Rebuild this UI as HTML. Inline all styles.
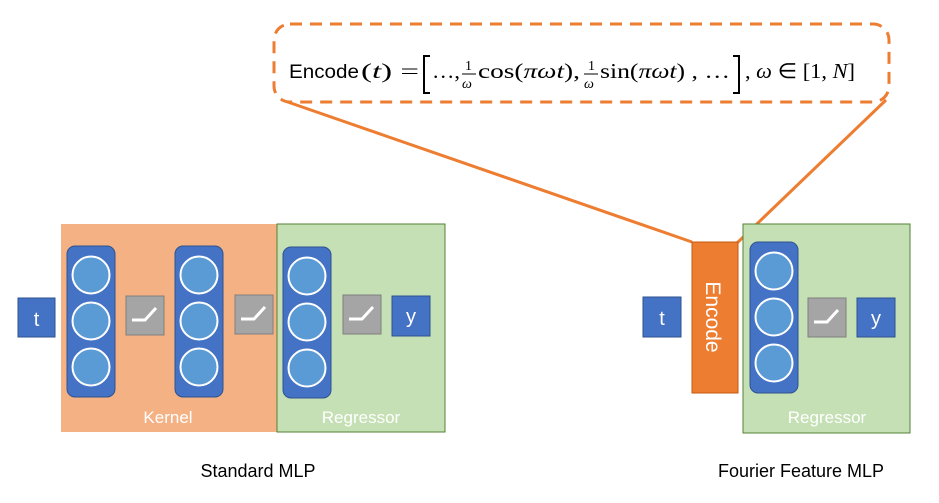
<!DOCTYPE html>
<html><head><meta charset="utf-8"><style>
body{margin:0;background:#fff}
svg{display:block}
text{font-family:"Liberation Sans",sans-serif}
.s{font-family:"Liberation Serif",serif}
</style></head><body>
<svg width="939" height="503" viewBox="0 0 939 503" xmlns="http://www.w3.org/2000/svg">
<defs>
<g id="col">
<rect x="0" y="0" width="48" height="151" rx="8" fill="#4472c4" stroke="#2f528f" stroke-width="1"/>
<circle cx="24" cy="29" r="18.5" fill="#5b9bd5" stroke="#fff" stroke-width="2"/>
<circle cx="24" cy="75" r="18.5" fill="#5b9bd5" stroke="#fff" stroke-width="2"/>
<circle cx="24" cy="121" r="18.5" fill="#5b9bd5" stroke="#fff" stroke-width="2"/>
</g>
<g id="relu">
<rect x="0" y="0" width="38" height="39" fill="#a5a5a5" stroke="#7f7f7f" stroke-width="1"/>
<polyline points="6,24 19,24 30,12" fill="none" stroke="#fff" stroke-width="3"/>
</g>
</defs>
<!-- callout -->
<line x1="282" y1="100" x2="692" y2="242" stroke="#ed7d31" stroke-width="3"/>
<line x1="886" y1="100" x2="737" y2="243" stroke="#ed7d31" stroke-width="3"/>
<rect x="274" y="24" width="615" height="78" rx="16" fill="#fff" stroke="#ed7d31" stroke-width="3" stroke-dasharray="12,8"/>
<text x="289" y="78" font-size="19" fill="#000" textLength="70" lengthAdjust="spacingAndGlyphs">Encode</text>
<text class="s" x="361" y="78" font-size="21" textLength="58" lengthAdjust="spacingAndGlyphs">(<tspan font-style="italic">t</tspan>) =</text>
<path d="M430,56 L424,56 L424,93 L430,93" fill="none" stroke="#000" stroke-width="2"/>
<text class="s" x="432" y="78" font-size="21" textLength="28" lengthAdjust="spacingAndGlyphs">…,</text>
<text class="s" x="465" y="70" font-size="14">1</text>
<line x1="462" y1="74" x2="476" y2="74" stroke="#000" stroke-width="1"/>
<text class="s" x="462" y="88" font-size="14" font-style="italic">ω</text>
<text class="s" x="478" y="78" font-size="21" textLength="102" lengthAdjust="spacingAndGlyphs">cos(<tspan font-style="italic">πωt</tspan>),</text>
<text class="s" x="588" y="70" font-size="14">1</text>
<line x1="584" y1="74" x2="598" y2="74" stroke="#000" stroke-width="1"/>
<text class="s" x="584" y="88" font-size="14" font-style="italic">ω</text>
<text class="s" x="600" y="78" font-size="21" textLength="130" lengthAdjust="spacingAndGlyphs">sin(<tspan font-style="italic">πωt</tspan>) , …</text>
<path d="M733,56 L739,56 L739,93 L733,93" fill="none" stroke="#000" stroke-width="2"/>
<text class="s" x="745" y="78" font-size="21" textLength="110" lengthAdjust="spacingAndGlyphs">, <tspan font-style="italic">ω</tspan> ∈ [1, <tspan font-style="italic">N</tspan>]</text>
<!-- standard -->
<rect x="61" y="224" width="216" height="208" fill="#f4b183"/>
<rect x="277" y="224" width="168" height="208" fill="#c5e0b4" stroke="#548235" stroke-width="1"/>
<rect x="18" y="298" width="37" height="39" fill="#4472c4" stroke="#2f528f"/>
<text x="36.5" y="326" font-size="20" fill="#fff" text-anchor="middle">t</text>
<use href="#col" x="67" y="246"/>
<use href="#relu" x="126" y="296"/>
<use href="#col" x="175" y="246"/>
<use href="#relu" x="235" y="295"/>
<use href="#col" x="283" y="247"/>
<use href="#relu" x="343" y="295"/>
<rect x="392" y="296" width="38" height="40" fill="#4472c4" stroke="#2f528f"/>
<text x="411" y="323" font-size="20" fill="#fff" text-anchor="middle">y</text>
<text x="168" y="423" font-size="17" fill="#fff" text-anchor="middle">Kernel</text>
<text x="361" y="423" font-size="17" fill="#fff" text-anchor="middle">Regressor</text>
<!-- fourier -->
<rect x="743" y="224" width="167" height="209" fill="#c5e0b4" stroke="#548235" stroke-width="1"/>
<rect x="643" y="297" width="38" height="40" fill="#4472c4" stroke="#2f528f"/>
<text x="662" y="325" font-size="20" fill="#fff" text-anchor="middle">t</text>
<rect x="692" y="242" width="46" height="151" fill="#ed7d31" stroke="#c55a11"/>
<text transform="translate(706,317) rotate(90)" font-size="21" fill="#fff" text-anchor="middle">Encode</text>
<use href="#col" x="750" y="242"/>
<use href="#relu" x="808" y="298"/>
<rect x="857" y="298" width="38" height="39" fill="#4472c4" stroke="#2f528f"/>
<text x="876" y="325" font-size="20" fill="#fff" text-anchor="middle">y</text>
<text x="827" y="423" font-size="17" fill="#fff" text-anchor="middle">Regressor</text>
<text x="258" y="477" font-size="18" fill="#000" text-anchor="middle">Standard MLP</text>
<text x="801" y="477" font-size="18" fill="#000" text-anchor="middle">Fourier Feature MLP</text>
</svg>
</body></html>
